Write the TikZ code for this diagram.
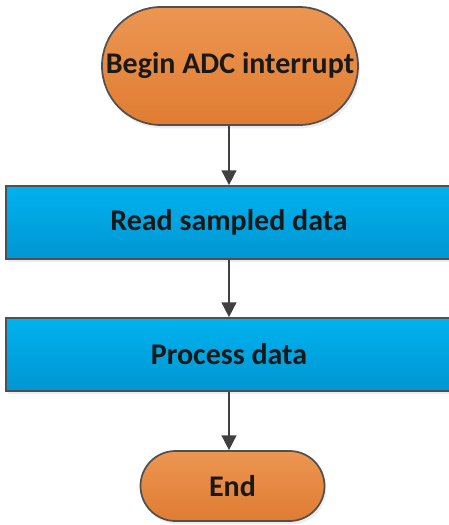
\documentclass[tikz,border=0pt]{standalone}
\usepackage{fontspec}
\setmainfont{Carlito}
\usetikzlibrary{arrows.meta,shadows}
\definecolor{edgegray}{HTML}{505050}
\definecolor{orangetop}{HTML}{EC9652}
\definecolor{orangebot}{HTML}{E07C32}
\definecolor{bluetop}{HTML}{00B2EE}
\definecolor{bluebot}{HTML}{0096D2}
\definecolor{arrowgray}{HTML}{404040}
\tikzset{
  label font/.style={font=\bfseries\fontsize{22.5}{26}\selectfont, text=black!90},
  base/.style={draw=edgegray, line width=1.3pt, inner sep=0pt, label font,
    drop shadow={shadow xshift=1.5pt, shadow yshift=-2.5pt, fill=black!12, opacity=0.6}},
  terminal/.style={base, top color=orangetop, bottom color=orangebot},
  process/.style={base, rectangle, top color=bluetop, bottom color=bluebot},
  flow/.style={draw=arrowgray, line width=1.3pt,
    -{Triangle[length=11pt, width=11pt]}}
}
\begin{document}
\begin{tikzpicture}[x=0.75pt, y=-0.75pt]
  \useasboundingbox (0,0) rectangle (449,525);
  \clip (0,0) rectangle (449,525);
  % start and end terminals
  \node[terminal, minimum width=256*0.75pt, minimum height=118*0.75pt,
        rounded corners=59*0.75pt] (begin) at (230,66) {Begin ADC interrupt};
  \node[terminal, minimum width=184*0.75pt, minimum height=70*0.75pt,
        rounded corners=35*0.75pt] (end) at (232.5,486) {End};
  % processing steps (run past the right margin)
  \node[process, minimum width=452*0.75pt, minimum height=73*0.75pt] (read) at (232,222.5) {};
  \node[process, minimum width=452*0.75pt, minimum height=73*0.75pt] (proc) at (232,354.5) {};
  \node[label font] (readtxt) at (229,222.5) {Read sampled data};
  \node[label font] (proctxt) at (229,354.5) {Process data};
  % connectors
  \draw[flow] (begin.south -| readtxt) -- (read.north -| readtxt);
  \draw[flow] (read.south -| readtxt) -- (proc.north -| readtxt);
  \draw[flow] (proc.south -| readtxt) -- (end.north -| readtxt);
\end{tikzpicture}
\end{document}
